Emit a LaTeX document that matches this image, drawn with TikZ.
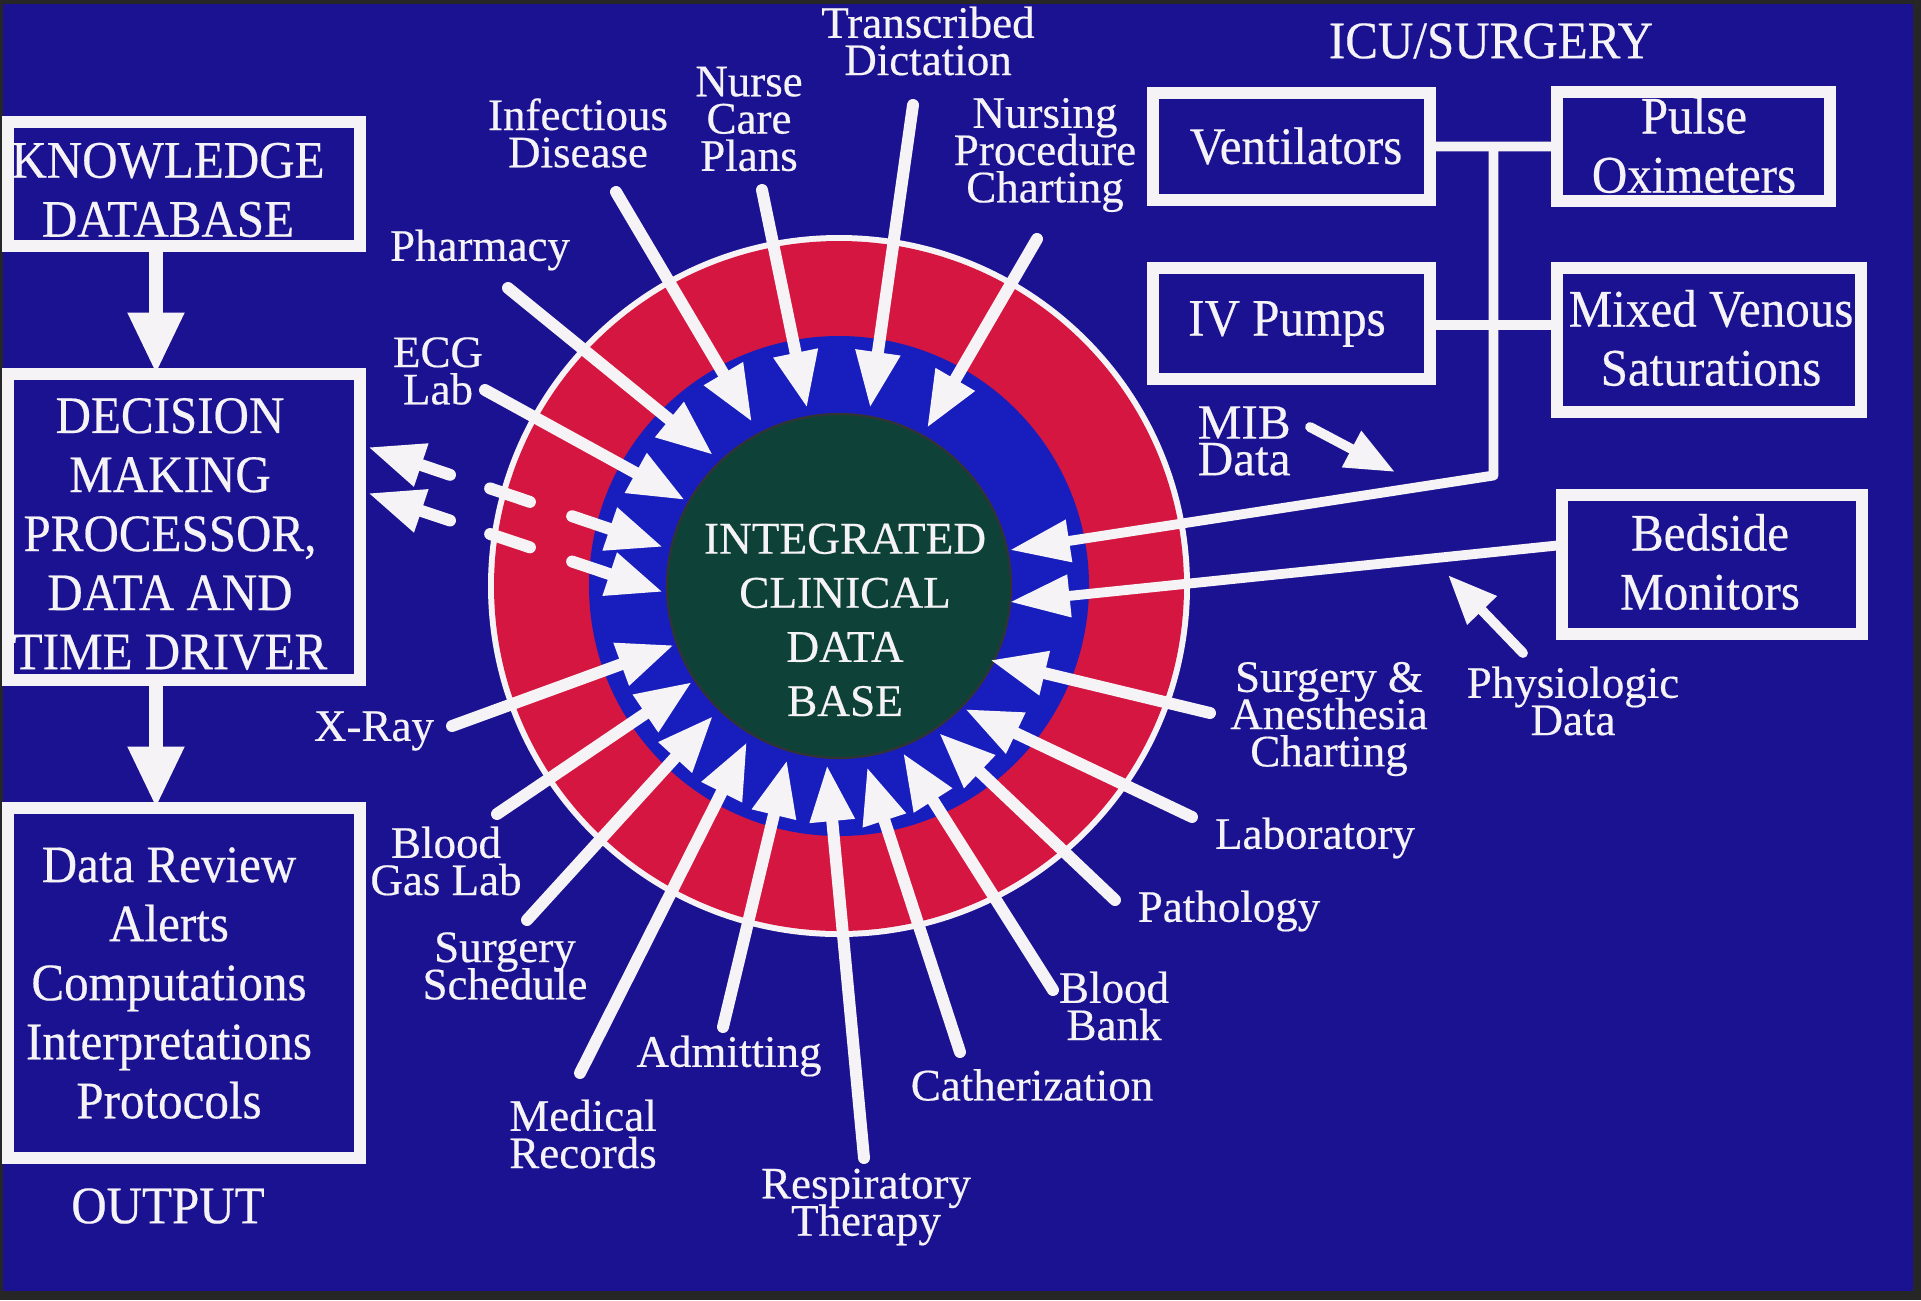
\documentclass[tikz,border=0pt]{standalone}
\usepackage{fontspec}
\setmainfont{Liberation Serif}[FakeBold=0.4]
\newfontfamily\boxfam{Liberation Serif}[FakeStretch=0.93,FakeBold=0.4]
\usetikzlibrary{arrows.meta,calc}
\definecolor{bgblue}{RGB}{27,18,146}
\definecolor{bandblue}{RGB}{24,30,190}
\definecolor{ringred}{RGB}{212,22,64}
\definecolor{coregreen}{RGB}{14,66,56}
\definecolor{wht}{RGB}{246,243,246}
\newcommand\lblfont{\fontsize{12.8}{10.6}\selectfont\lineskiplimit=-100pt\relax}
\newcommand\bigfont{\boxfam\fontsize{15}{16.8}\selectfont\lineskiplimit=-100pt\relax}
\newcommand\ctrfont{\fontsize{12.9}{15.4}\selectfont\lineskiplimit=-100pt\relax}
\newcommand\mibfont{\fontsize{14}{10.4}\selectfont\lineskiplimit=-100pt\relax}
\begin{document}
\begin{tikzpicture}[x=0.1mm,y=-0.1mm,
  lbl/.style={text=wht, align=center, inner sep=0pt, font=\lblfont},
  bigtxt/.style={text=wht, align=center, inner sep=0pt, font=\bigfont},
  ctrtxt/.style={text=wht, align=center, inner sep=0pt, font=\ctrfont},
  feed/.style={draw=wht, line width=3.4pt, line cap=round, -{Triangle[length=16pt,width=12pt]}},
  stub/.style={draw=wht, line width=3.4pt, line cap=round},
  bigarrow/.style={draw=wht, line width=4.2pt, -{Triangle[length=17.5pt,width=15pt]}},
  boxframe/.style={draw=wht, line width=3.4pt, inner sep=0pt, outer sep=0pt, anchor=north west},
  bus/.style={draw=wht, line width=2.8pt},
  busarrow/.style={draw=wht, line width=2.8pt, line join=round, -{Triangle[length=17pt,width=11.5pt]}},
  small/.style={draw=wht, line width=2.8pt, line cap=round, -{Triangle[length=14pt,width=11pt]}}
]
\useasboundingbox (0,0) rectangle (1921,1300);
\fill[black!85] (0,0) rectangle (1921,1300);
\fill[bgblue] (3,4) rectangle (1913,1291);

% ---- central target ----
\coordinate (C) at (839,586);
\node[circle, fill=wht, minimum size=70.2mm, inner sep=0pt] (outer) at (C) {};
\node[circle, fill=ringred, minimum size=69.0mm, inner sep=0pt] (ring) at (C) {};
\node[circle, fill=bandblue, minimum size=50.0mm, inner sep=0pt] (band) at (C) {};
\node[circle, draw=black!80, line width=0.6pt, fill=coregreen, minimum size=34.4mm, inner sep=0pt] (core) at (C) {};
\node[ctrtxt] (coretext) at (845,620) {INTEGRATED\\CLINICAL\\DATA\\BASE};

% ---- left column ----
\node[boxframe, minimum width=35.2mm, minimum height=12.4mm] (kb) at (8,122) {};
\node[boxframe, minimum width=35.2mm, minimum height=30.6mm] (dm) at (8,374) {};
\node[boxframe, minimum width=35.2mm, minimum height=35.0mm] (out) at (8,808) {};
\node[bigtxt] (kbtext) at (168,190) {KNOWLEDGE\\DATABASE};
\node[bigtxt] (dmtext) at (170,534) {DECISION\\MAKING\\PROCESSOR,\\DATA AND\\TIME DRIVER};
\node[bigtxt] (outtext) at (169,983) {Data Review\\Alerts\\Computations\\Interpretations\\Protocols};
\node[bigtxt] (outlabel) at (168,1206) {OUTPUT};
\draw[bigarrow] ([xshift=14.8mm]kb.south west) -- ([xshift=14.8mm]dm.north west);
\draw[bigarrow] ([xshift=14.8mm]dm.south west) -- ([xshift=14.8mm]out.north west);

% ---- two-way broken links between processor and data base ----
\coordinate (dA1) at (368,447); \coordinate (dB1) at (663,547);
\coordinate (dA2) at (368,493); \coordinate (dB2) at (663,592);
\foreach \a/\b in {dA1/dB1, dA2/dB2}{
  \draw[feed] ($(\a)!0.278!(\b)$) -- (\a);
  \draw[stub] ($(\a)!0.414!(\b)$) -- ($(\a)!0.549!(\b)$);
  \draw[feed] ($(\a)!0.692!(\b)$) -- (\b);
}

% ---- radial feeds ----
\foreach \tx/\ty/\hx/\hy in {
  616/192/752/422, 762/190/807/408, 913/105/870/408, 1037/239/927/428,
  508/288/713/455, 485/390/685/500, 452/726/674/645, 497/814/692/682,
  527/920/713/716, 580/1073/747/742, 723/1027/787/760, 864/1158/827/765,
  960/1052/867/767, 1053/990/903/753, 1115/900/939/733, 1192/817/965/709,
  1210/713/990/660}
  \draw[feed] (\tx,\ty) -- (\hx,\hy);

% ---- radial labels ----
\node[lbl] (infd) at (578,133) {Infectious\\Disease};
\node[lbl] (ncp) at (749,119) {Nurse\\Care\\Plans};
\node[lbl] (tdict) at (928,41) {Transcribed\\Dictation};
\node[lbl] (npc) at (1045,155) {Nursing\\Procedure\\Charting};
\node[lbl] (pharm) at (480,250) {Pharmacy};
\node[lbl] (ecg) at (438,371) {ECG\\Lab};
\node[lbl] (xray) at (374,731) {X-Ray};
\node[lbl] (bgl) at (446,861) {Blood\\Gas Lab};
\node[lbl] (ssch) at (505,966) {Surgery\\Schedule};
\node[lbl] (medr) at (583,1134) {Medical\\Records};
\node[lbl] (adm) at (729,1056) {Admitting};
\node[lbl] (resp) at (866,1207) {Respiratory\\Therapy};
\node[lbl] (cath) at (1032,1085) {Catherization};
\node[lbl] (bbank) at (1114,1006) {Blood\\Bank};
\node[lbl] (path) at (1229,911) {Pathology};
\node[lbl] (lab) at (1315,838) {Laboratory};
\node[lbl] (sac) at (1329,719) {Surgery \&\\Anesthesia\\Charting};
\node[lbl] (phys) at (1573,701) {Physiologic\\Data};

% ---- ICU / surgery devices ----
\node[bigtxt] (icu) at (1491,41) {ICU/SURGERY};
\node[boxframe, minimum width=27.7mm, minimum height=10.7mm] (vent) at (1153,93) {};
\node[boxframe, minimum width=27.3mm, minimum height=10.9mm] (pulse) at (1557,92) {};
\node[boxframe, minimum width=27.7mm, minimum height=11.1mm] (iv) at (1153,268) {};
\node[boxframe, minimum width=30.4mm, minimum height=14.4mm] (mixed) at (1557,268) {};
\node[boxframe, minimum width=30.0mm, minimum height=13.9mm] (bed) at (1562,495) {};
\node[bigtxt] at (1296,146) {Ventilators};
\node[bigtxt] at (1694,145) {Pulse\\Oximeters};
\node[bigtxt] at (1287,324) {IV Pumps};
\node[bigtxt] at (1711,338) {Mixed Venous\\Saturations};
\node[bigtxt] at (1710,562) {Bedside\\Monitors};
\node[text=wht, align=left, inner sep=0pt, font=\mibfont, anchor=west] (mib) at (1197,441) {MIB\\Data};

\draw[bus] (vent.east) -- (pulse.west);
\draw[bus] (iv.east |- 0,325) -- (mixed.west |- 0,325);
\draw[busarrow] ($(vent.east)!0.5!(pulse.west)$) -- ++(0,329) coordinate (bj) -- (1010,550);
\draw[busarrow] ([yshift=1.95mm]bed.west) -- (1010,602);
\draw[small] (1310,427) -- (1395,472);
\draw[small] (1523,653) -- (1448,575);
\end{tikzpicture}
\end{document}
